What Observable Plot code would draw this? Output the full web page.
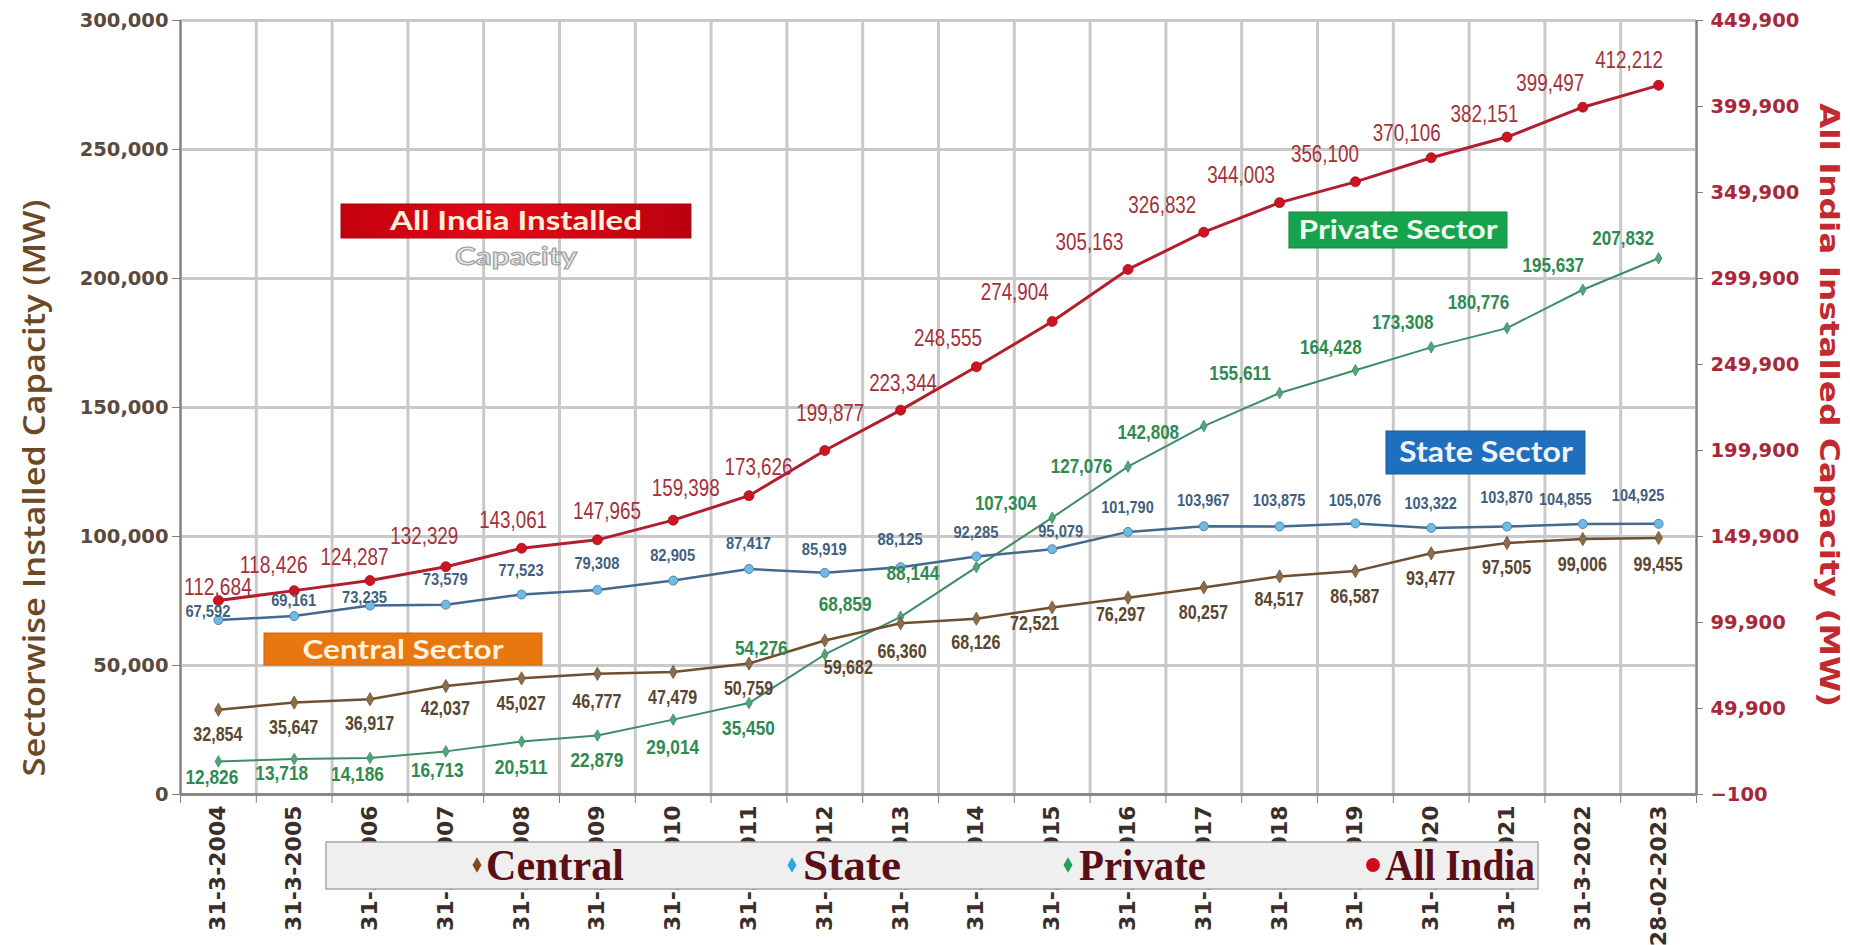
<!DOCTYPE html>
<html>
<head>
<meta charset="utf-8">
<script src="https://cdn.jsdelivr.net/npm/d3@7"></script>
<script src="https://cdn.jsdelivr.net/npm/@observablehq/plot@0.6"></script>
<style>
html,body{margin:0;padding:0;background:#fff;overflow:hidden}
#chart svg{display:block}
</style>
</head>
<body>
<div id="chart"></div>
<script>
// ---------- data ----------
const categories = ["31-3-2004","31-3-2005","31-3-2006","31-3-2007","31-3-2008","31-3-2009","31-3-2010",
  "31-3-2011","31-3-2012","31-3-2013","31-3-2014","31-3-2015","31-3-2016","31-3-2017","31-3-2018",
  "31-3-2019","31-3-2020","31-3-2021","31-3-2022","28-02-2023"];
const centralValues = [32854,35647,36917,42037,45027,46777,47479,50759,59682,66360,68126,72521,76297,80257,84517,86587,93477,97505,99006,99455];
const stateValues = [67592,69161,73235,73579,77523,79308,82905,87417,85919,88125,92285,95079,101790,103967,103875,105076,103322,103870,104855,104925];
const privateValues = [12826,13718,14186,16713,20511,22879,29014,35450,54276,68859,88144,107304,127076,142808,155611,164428,173308,180776,195637,207832];
const allIndiaValues = [112684,118426,124287,132329,143061,147965,159398,173626,199877,223344,248555,274904,305163,326832,344003,356100,370106,382151,399497,412212];
const leftTicks = [0,50000,100000,150000,200000,250000,300000];
const rightTicks = [-100,49900,99900,149900,199900,249900,299900,349900,399900,449900];
const seriesNames = ["Central","State","Private","All India"];
const boxTexts = ["All India Installed","Capacity","Central Sector","Private Sector","State Sector"];
const leftTitle = "Sectorwise Installed Capacity (MW)";
const rightTitle = "All India Installed Capacity (MW)";

// ---------- layout (label nudges in px, not data) ----------
const allIndiaDx = [0,-20,-15,-21,-8,10,13,10,6,3,-28,-37,-38,-41,-38,-30,-24,-22,-32,-29];
const allIndiaDy = [-13,-25,-23,-31,-28,-29,-32,-28,-37,-27,-29,-29,-27,-27,-27,-28,-25,-23,-24,-25];
const centralDx = [0,0,0,0,0,0,0,0,24,2,0,-17,-7,0,0,0,0,0,0,0];
const centralDy = [25,25,24,22,25,27,25,25,27,28,24,16,17,25,23,25,25,24,25,26];
const stateDx = [-10,0,-5,0,0,0,0,0,0,0,0,9,0,0,0,0,0,0,-17,-20];
const stateDy = [-8,-15,-8,-25,-24,-26,-25,-25,-23,-27,-24,-17,-24,-26,-26,-23,-24,-29,-24,-28];
const privateDx = [-6,-12,-12,-8,0,0,0,0,-63,-55,-63,-46,-46,-55,-39,-24,-28,-28,-29,-35];
const privateDy = [16,14,16,19,26,25,28,25,-6,-13,6,-14,0,6,-20,-23,-25,-26,-24,-20];

// right axis [-100, 449900] shares the pixel range of the left axis [0, 300000]
const toLeft = v => (v + 100) * 300000 / 450000;
const fromLeft = u => u * 450000 / 300000 - 100;
const fmt = d3.format(",");
const N = categories.length;
const rowsOf = (vals, conv = v => v) => vals.map((v, i) => ({i, v, y: conv(v)}));
const centralRows = rowsOf(centralValues);
const stateRows = rowsOf(stateValues);
const privateRows = rowsOf(privateValues);
const allIndiaRows = rowsOf(allIndiaValues, toLeft);

const C = {
  central: "#6f4f31", centralDot: "#8c6c4a", centralText: "#5b4630",
  state: "#44698f", stateDot: "#6fbbe3", stateText: "#3f5f80",
  priv: "#3f8c66", privDot: "#4fa67b", privText: "#2f8a52",
  all: "#b21f2c", allDot: "#cc1423", allText: "#a3303b",
  grid: "#c9c9c9", axis: "#857c78"
};

const boundaries = d3.range(-0.5, N, 1);
const idx = d3.range(N);

const chart = Plot.plot({
  width: 1850, height: 945,
  marginLeft: 180, marginRight: 154, marginTop: 20, marginBottom: 151,
  x: {type: "linear", domain: [-0.5, N - 0.5], axis: null},
  y: {type: "linear", domain: [0, 300000], axis: null},
  style: {background: "#fff", overflow: "visible"},
  marks: [
    Plot.gridX(boundaries, {stroke: C.grid, strokeOpacity: 1, strokeWidth: 3}),
    Plot.gridY(leftTicks, {stroke: C.grid, strokeOpacity: 1, strokeWidth: 3}),
    Plot.ruleX([-0.5, N - 0.5], {stroke: C.axis, strokeWidth: 2}),
    Plot.ruleY([0], {stroke: "#8e8884", strokeWidth: 3}),
    Plot.axisY(leftTicks, {anchor: "left", tickSize: 8, tickPadding: 4, tickFormat: fmt,
      stroke: C.axis, fill: "#5a4a3e", fontSize: 19.5, fontWeight: "bold", fontFamily: "DejaVu Sans", label: null}),
    Plot.axisY(rightTicks.map(toLeft), {anchor: "right", tickSize: 6, tickPadding: 8,
      tickFormat: u => fmt(Math.round(fromLeft(u))),
      stroke: C.axis, fill: "#a8283a", fontSize: 19.5, fontWeight: "bold", fontFamily: "DejaVu Sans", label: null}),
    Plot.axisX(boundaries, {anchor: "bottom", tickSize: 9, tickFormat: () => "", stroke: C.axis, label: null}),
    Plot.axisX(idx, {anchor: "bottom", tickSize: 0, tickPadding: 11, tickRotate: -90,
      tickFormat: i => categories[i], fill: "#3a2e2a", fontSize: 22, fontWeight: "bold",
      fontFamily: "DejaVu Sans", label: null}),
    // series
    Plot.line(privateRows, {x: "i", y: "y", stroke: C.priv, strokeWidth: 2}),
    Plot.line(centralRows, {x: "i", y: "y", stroke: C.central, strokeWidth: 2.5}),
    Plot.line(stateRows, {x: "i", y: "y", stroke: C.state, strokeWidth: 2.5}),
    Plot.line(allIndiaRows, {x: "i", y: "y", stroke: C.all, strokeWidth: 3}),
    Plot.dot(privateRows, {x: "i", y: "y", symbol: "diamond", r: 3.5, fill: C.privDot, stroke: C.priv, strokeWidth: 0.8}),
    Plot.dot(centralRows, {x: "i", y: "y", symbol: "diamond", r: 4, fill: C.centralDot, stroke: C.central, strokeWidth: 0.8}),
    Plot.dot(stateRows, {x: "i", y: "y", r: 4.5, fill: C.stateDot, stroke: "#4f86b3", strokeWidth: 1}),
    Plot.dot(allIndiaRows, {x: "i", y: "y", r: 5, fill: C.allDot, stroke: "#a01020", strokeWidth: 0.8}),
    // annotation boxes (in data coordinates)
    Plot.rect([0], {x1: 1.624, x2: 6.241, y1: 215506, y2: 228684, fill: "url(#aiGrad)", stroke: "#a80a14", strokeWidth: 1}),
    Plot.rect([0], {x1: 0.608, x2: 4.276, y1: 50000, y2: 62404, fill: "#e8770f", stroke: "#d06a10", strokeWidth: 1}),
    Plot.rect([0], {x1: 14.13, x2: 17.006, y1: 211630, y2: 225583, fill: "#17a34e", stroke: "#13883f", strokeWidth: 1}),
    Plot.rect([0], {x1: 15.41, x2: 18.035, y1: 124032, y2: 140699, fill: "#1f6fbd", stroke: "#1a5fa3", strokeWidth: 1})
  ]
});

document.getElementById("chart").appendChild(chart);
const svg = d3.select(chart);
const sx = chart.scale("x"), sy = chart.scale("y");

// gradient for the All India box
const defs = svg.insert("defs", ":first-child");
const grad = defs.append("linearGradient").attr("id", "aiGrad").attr("x1", "0").attr("x2", "1").attr("y1", "0").attr("y2", "0");
grad.append("stop").attr("offset", "0").attr("stop-color", "#c3000d");
grad.append("stop").attr("offset", "0.45").attr("stop-color", "#e30a16");
grad.append("stop").attr("offset", "1").attr("stop-color", "#b9000f");

// value labels placed through the plot's scales
function addLabels(vals, conv, dxs, dys, o) {
  const g = svg.append("g")
    .attr("font-family", o.family).attr("font-size", o.size).attr("font-weight", o.weight)
    .attr("fill", o.fill).attr("text-anchor", "middle");
  vals.forEach((v, i) => {
    const t = fmt(v);
    g.append("text")
      .attr("x", sx.apply(i) + dxs[i])
      .attr("y", sy.apply(conv(v)) + dys[i])
      .attr("dy", "0.36em")
      .attr("textLength", t.length * o.charW)
      .attr("lengthAdjust", "spacingAndGlyphs")
      .text(t);
  });
}
const narrow = "'Liberation Sans Narrow','Arial Narrow','Liberation Sans',Arial,sans-serif";
addLabels(centralValues, v => v, centralDx, centralDy, {family: narrow, size: 20, weight: "bold", fill: C.centralText, charW: 8.2});
addLabels(stateValues, v => v, stateDx, stateDy, {family: narrow, size: 16, weight: "bold", fill: C.stateText, charW: 7.5});
addLabels(privateValues, v => v, privateDx, privateDy, {family: narrow, size: 20, weight: "bold", fill: C.privText, charW: 8.8});
addLabels(allIndiaValues, toLeft, allIndiaDx, allIndiaDy, {family: narrow, size: 23, weight: "normal", fill: C.allText, charW: 9.7});

// annotation box texts
const boxLabels = [
  {t: boxTexts[0], x: 3.933, y: 222095, fill: "#fff0dc", len: 252, size: 26},
  {t: boxTexts[2], x: 2.442, y: 56000, fill: "#fff3dc", len: 201, size: 26},
  {t: boxTexts[3], x: 15.569, y: 218607, fill: "#eefdee", len: 199, size: 26},
  {t: boxTexts[4], x: 16.73, y: 132300, fill: "#eef4ff", len: 174, size: 28}
];
const bg = svg.append("g").attr("font-family", "Lato,'Open Sans',sans-serif").attr("font-weight", "bold").attr("text-anchor", "middle");
boxLabels.forEach(b => {
  bg.append("text").attr("x", sx.apply(b.x)).attr("y", sy.apply(b.y)).attr("dy", "0.35em")
    .attr("font-size", b.size).attr("fill", b.fill)
    .attr("textLength", b.len).attr("lengthAdjust", "spacingAndGlyphs").text(b.t);
});
bg.append("text").attr("x", sx.apply(3.933)).attr("y", sy.apply(208141)).attr("dy", "0.35em")
  .attr("font-size", 24).attr("fill", "#e6e6e6").attr("stroke", "#9a9a9a").attr("stroke-width", 1)
  .attr("textLength", 122).attr("lengthAdjust", "spacingAndGlyphs").text(boxTexts[1]);

// axis titles
svg.append("text").attr("transform", "translate(34,488) rotate(-90)")
  .attr("text-anchor", "middle").attr("dy", "0.35em")
  .attr("font-family", "'Open Sans',Lato,sans-serif").attr("font-weight", 600).attr("font-size", 30)
  .attr("fill", "#6a4a25").attr("textLength", 577).attr("lengthAdjust", "spacingAndGlyphs").text(leftTitle);
svg.append("text").attr("transform", "translate(1829,405) rotate(90)")
  .attr("text-anchor", "middle").attr("dy", "0.35em")
  .attr("font-family", "'DejaVu Sans',Verdana,sans-serif").attr("font-weight", "bold").attr("font-size", 27)
  .attr("fill", "#c22a30").attr("textLength", 604).attr("lengthAdjust", "spacingAndGlyphs").text(rightTitle);

// legend (overlays the tick labels, as in the original)
const lg = svg.append("g").attr("text-anchor", "start");
lg.append("rect").attr("x", 326).attr("y", 842).attr("width", 1212).attr("height", 47)
  .attr("fill", "#efefef").attr("stroke", "#a8a8a8").attr("stroke-width", 1.5);
const legendItems = [
  {name: seriesNames[0], mx: 477, tx: 486, len: 138, color: "#7b4a22", sym: d3.symbolDiamond, size: 70},
  {name: seriesNames[1], mx: 792, tx: 803, len: 98, color: "#2ea6df", sym: d3.symbolDiamond, size: 70},
  {name: seriesNames[2], mx: 1068, tx: 1079, len: 127, color: "#21a05c", sym: d3.symbolDiamond, size: 70},
  {name: seriesNames[3], mx: 1373, tx: 1385, len: 150, color: "#d40818", sym: d3.symbolCircle, size: 150}
];
legendItems.forEach(it => {
  lg.append("path").attr("d", d3.symbol().type(it.sym).size(it.size)())
    .attr("transform", `translate(${it.mx},865)`).attr("fill", it.color);
  lg.append("text").attr("x", it.tx).attr("y", 865).attr("dy", "0.34em").attr("text-anchor", "start")
    .attr("font-family", "'Liberation Serif','DejaVu Serif',serif").attr("font-size", 45)
    .attr("font-weight", 600)
    .attr("fill", "#5a0e16").attr("textLength", it.len).attr("lengthAdjust", "spacingAndGlyphs")
    .text(it.name);
});
</script>
</body>
</html>
